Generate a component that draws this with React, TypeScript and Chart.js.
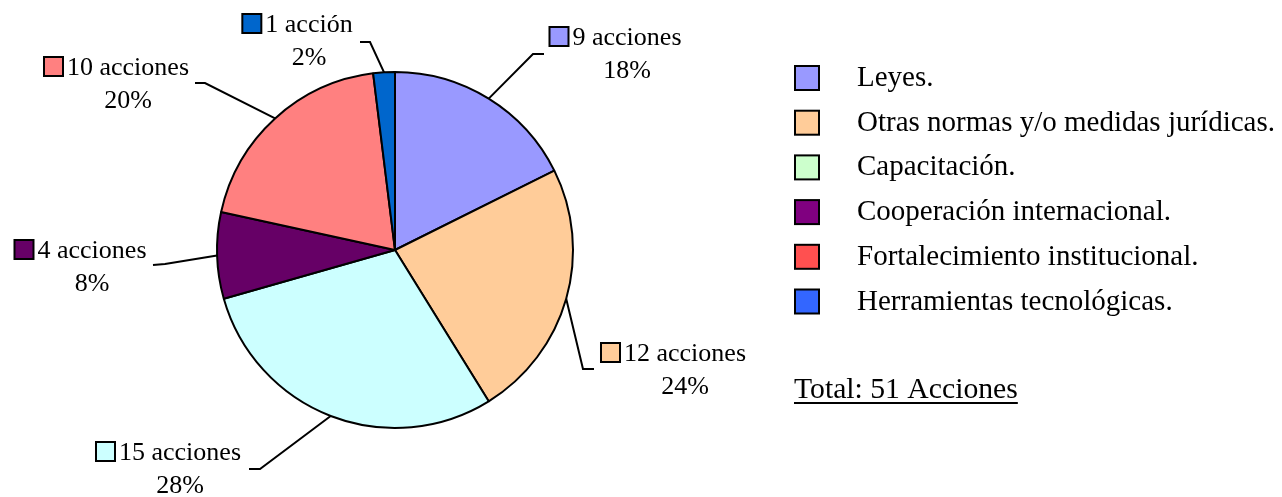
import React, { useEffect, useRef } from "react";
import { Chart, registerables } from "chart.js";

Chart.register(...registerables);

const categories = [
  "Leyes.",
  "Otras normas y/o medidas jurídicas.",
  "Capacitación.",
  "Cooperación internacional.",
  "Fortalecimiento institucional.",
  "Herramientas tecnológicas.",
];
const actionCounts = [9, 12, 15, 4, 10, 1];
const percentLabels = ["18%", "24%", "28%", "8%", "20%", "2%"];
const sliceColors = ["#9999FF", "#FFCC99", "#CCFFFF", "#660066", "#FF8080", "#0066CC"];
const legendColors = ["#9999FF", "#FFCC99", "#CCFFCC", "#800080", "#FF5050", "#3366FF"];
const totalLabel = "Total: 51 Acciones";

// label placement (layout only)
const LABEL_LAYOUT = [
  { cx: 627, y: 45, elbow: [533, 54], end: [544, 54] },
  { cx: 685, y: 361, elbow: [583, 369], end: [594, 369] },
  { cx: 180, y: 460, elbow: [260, 469], end: [249, 469] },
  { cx: 92, y: 258, elbow: [165, 264], end: [153, 265] },
  { cx: 128, y: 75, elbow: [205, 83], end: [195, 83] },
  { cx: 309, y: 32, elbow: [370, 42], end: [360, 42] },
];

const FONT = '"Liberation Serif", "Times New Roman", serif';

const labelPlugin = {
  id: "customLabels",
  afterDraw(chart: any) {
    const ctx = chart.ctx;
    const meta = chart.getDatasetMeta(0);
    ctx.save();
    // leader lines + slice labels
    meta.data.forEach((arc: any, i: number) => {
      const lay = LABEL_LAYOUT[i];
      const mid = (arc.startAngle + arc.endAngle) / 2;
      const px = arc.x + Math.cos(mid) * arc.outerRadius;
      const py = arc.y + Math.sin(mid) * arc.outerRadius;
      ctx.strokeStyle = "#000";
      ctx.lineWidth = 2;
      ctx.beginPath();
      ctx.moveTo(px, py);
      ctx.lineTo(lay.elbow[0], lay.elbow[1]);
      ctx.lineTo(lay.end[0], lay.end[1]);
      ctx.stroke();

      const v = actionCounts[i];
      const line1 = `${v} ${v === 1 ? "acción" : "acciones"}`;
      ctx.font = `26px ${FONT}`;
      ctx.fillStyle = "#000";
      ctx.textBaseline = "alphabetic";
      ctx.textAlign = "center";
      ctx.fillText(line1, lay.cx, lay.y);
      ctx.fillText(percentLabels[i], lay.cx, lay.y + 33);
      const w = ctx.measureText(line1).width;
      const bx = lay.cx - w / 2 - 4 - 19;
      const by = lay.y - 18;
      ctx.fillStyle = sliceColors[i];
      ctx.fillRect(bx, by, 19, 19);
      ctx.lineWidth = 2;
      ctx.strokeRect(bx, by, 19, 19);
    });

    // legend
    ctx.textAlign = "left";
    ctx.font = `29px ${FONT}`;
    categories.forEach((c, i) => {
      const cy = 78 + i * 44.7;
      ctx.fillStyle = legendColors[i];
      ctx.fillRect(795, cy - 12, 24, 24);
      ctx.strokeStyle = "#000";
      ctx.lineWidth = 2;
      ctx.strokeRect(795, cy - 12, 24, 24);
      ctx.fillStyle = "#000";
      ctx.fillText(c, 857, cy + 8);
    });

    // total
    ctx.font = `29.7px ${FONT}`;
    ctx.fillText(totalLabel, 794, 398);
    const tw = ctx.measureText(totalLabel).width;
    ctx.fillRect(794, 402, tw, 2);
    ctx.restore();
  },
};

export default function App() {
  const ref = useRef<HTMLCanvasElement>(null);
  useEffect(() => {
    if (!ref.current) return;
    const chart = new Chart(ref.current, {
      type: "pie",
      data: {
        labels: categories,
        datasets: [
          {
            data: actionCounts,
            backgroundColor: sliceColors,
            borderColor: "#000",
            borderWidth: 2,
          },
        ],
      },
      options: {
        animation: false,
        responsive: false,
        radius: 178,
        layout: { padding: { left: 217, right: 709, top: 72, bottom: 69 } },
        plugins: {
          legend: { display: false },
          tooltip: { enabled: false },
        },
      } as any,
      plugins: [labelPlugin],
    });
    return () => chart.destroy();
  }, []);
  return (
    <div style={{ position: "absolute", left: 0, top: 0, width: 1282, height: 497, background: "#fff" }}>
      <canvas ref={ref} width={1282} height={497} style={{ width: 1282, height: 497 }} />
    </div>
  );
}
